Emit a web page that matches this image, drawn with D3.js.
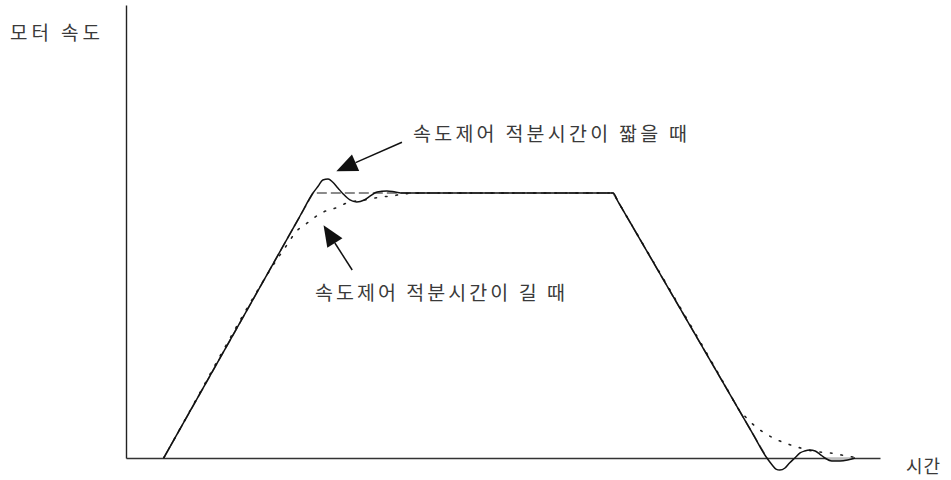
<!DOCTYPE html>
<html>
<head>
<meta charset="utf-8">
<script src="https://cdn.jsdelivr.net/npm/d3@7/dist/d3.min.js"></script>
<style>
  html, body { margin: 0; padding: 0; background: #fff; }
  svg { display: block; }
  text { font-family: "Noto Sans CJK KR", "Noto Sans", sans-serif; fill: #3a3a3a; }
</style>
</head>
<body>
<svg id="chart" width="951" height="480"></svg>
<script>
// ---- data (time in ms, speed in rpm; schematic) ----
const axisLabels = { y: "모터 속도", x: "시간" };
const annotationLabels = ["속도제어 적분시간이 짧을 때", "속도제어 적분시간이 길 때"];

// commanded trapezoidal speed profile
const commandTime  = [50, 248, 646, 850];
const commandSpeed = [0, 3000, 3000, 0];

// response with short integral time (overshoot / ringing)
const shortTime  = [50, 56, 230, 248, 255, 261, 268, 274, 281, 288, 297, 306, 316, 324, 333, 346, 357, 367, 400, 640, 646, 652, 830, 850, 857, 862, 867, 874, 880, 887, 894, 900, 907, 914, 920, 927, 936, 947, 957, 967];
const shortSpeed = [0, 91, 2727, 3000, 3079, 3147, 3158, 3124, 3057, 2989, 2921, 2898, 2921, 2966, 3011, 3023, 3011, 3000, 3000, 3000, 3000, 2912, 294, 0, -79, -125, -136, -113, -57, 0, 57, 79, 91, 79, 45, 0, -34, -34, -23, 0];

// response with long integral time (slow approach)
const longTime  = [50, 56, 185, 191, 216, 225, 237, 249, 262, 278, 293, 324, 338, 354, 367, 400, 640, 646, 652, 805, 811, 823, 834, 847, 861, 874, 890, 904, 920, 934, 949, 964, 971];
const longSpeed = [0, 91, 2045, 2128, 2445, 2558, 2638, 2717, 2785, 2830, 2887, 2932, 2955, 2966, 2990, 3000, 3000, 3000, 2912, 662, 570, 453, 362, 283, 215, 170, 125, 91, 68, 57, 34, 11, 0];

// annotation arrows: [tailTime, tailSpeed, tipTime, tipSpeed]
const arrowShort = [366, 3575, 279, 3247];
const arrowLong  = [300, 2128, 262, 2634];

// ---- scales ----
const svg = d3.select("#chart");
const x = d3.scaleLinear().domain([0, 1000]).range([126, 880]);
const y = d3.scaleLinear().domain([0, 5128]).range([458, 5]);

const zip = (a, b) => a.map((d, i) => [d, b[i]]);
const command = zip(commandTime, commandSpeed);
const shortResp = zip(shortTime, shortSpeed);
const longResp = zip(longTime, longSpeed);

// ---- axes (no ticks) ----
svg.append("g").attr("transform", `translate(0,${y(0)})`)
  .call(d3.axisBottom(x).tickValues([]).tickSizeOuter(0))
  .select(".domain").attr("stroke", "#333").attr("stroke-width", 1.4);
svg.append("g").attr("transform", `translate(${x(0)},0)`)
  .call(d3.axisLeft(y).tickValues([]).tickSizeOuter(0))
  .select(".domain").attr("stroke", "#222").attr("stroke-width", 1.4);

// ---- shaded small dip ----
const dip = shortResp.filter(d => d[0] >= 927 && d[0] <= 967);
svg.append("path").datum(dip)
  .attr("d", d3.area().x(d => x(d[0])).y0(y(0)).y1(d => y(d[1])).curve(d3.curveMonotoneX))
  .attr("fill", "#bdbdbd");

// ---- command (dashed) ----
svg.append("path").datum(command)
  .attr("d", d3.line().x(d => x(d[0])).y(d => y(d[1])))
  .attr("fill", "none").attr("stroke", "#666").attr("stroke-width", 1.6)
  .attr("stroke-dasharray", "10,4");

// ---- long integral response (dotted) ----
svg.append("path").datum(longResp)
  .attr("d", d3.line().x(d => x(d[0])).y(d => y(d[1])).curve(d3.curveMonotoneX))
  .attr("fill", "none").attr("stroke", "#222").attr("stroke-width", 1.6)
  .attr("stroke-dasharray", "1.6,9").attr("stroke-linecap", "round");

// ---- short integral response (solid) ----
svg.append("path").datum(shortResp)
  .attr("d", d3.line().x(d => x(d[0])).y(d => y(d[1])).curve(d3.curveMonotoneX))
  .attr("fill", "none").attr("stroke", "#111").attr("stroke-width", 1.5);

// ---- arrows ----
function arrow(a) {
  const x1 = x(a[0]), y1 = y(a[1]), x2 = x(a[2]), y2 = y(a[3]);
  const ang = Math.atan2(y2 - y1, x2 - x1);
  const len = 21, half = 9;
  const bx = x2 - len * Math.cos(ang), by = y2 - len * Math.sin(ang);
  svg.append("line").attr("x1", x1).attr("y1", y1).attr("x2", bx).attr("y2", by)
    .attr("stroke", "#111").attr("stroke-width", 1.5);
  const p1 = [bx + half * Math.sin(ang), by - half * Math.cos(ang)];
  const p2 = [bx - half * Math.sin(ang), by + half * Math.cos(ang)];
  svg.append("path").attr("d", `M${x2},${y2}L${p1[0]},${p1[1]}L${p2[0]},${p2[1]}Z`)
    .attr("fill", "#111");
}
arrow(arrowShort);
arrow(arrowLong);

// ---- texts ----
svg.append("text").attr("x", 10).attr("y", 40).attr("font-size", 19)
  .attr("textLength", 90).attr("lengthAdjust", "spacing").text(axisLabels.y);
svg.append("text").attr("x", 906).attr("y", 473).attr("font-size", 18)
  .attr("textLength", 34).attr("lengthAdjust", "spacing").text(axisLabels.x);
svg.append("text").attr("x", 413).attr("y", 141).attr("font-size", 19.5)
  .attr("textLength", 274).attr("lengthAdjust", "spacing").text(annotationLabels[0]);
svg.append("text").attr("x", 315).attr("y", 300).attr("font-size", 19.5)
  .attr("textLength", 250).attr("lengthAdjust", "spacing").text(annotationLabels[1]);
</script>
</body>
</html>
